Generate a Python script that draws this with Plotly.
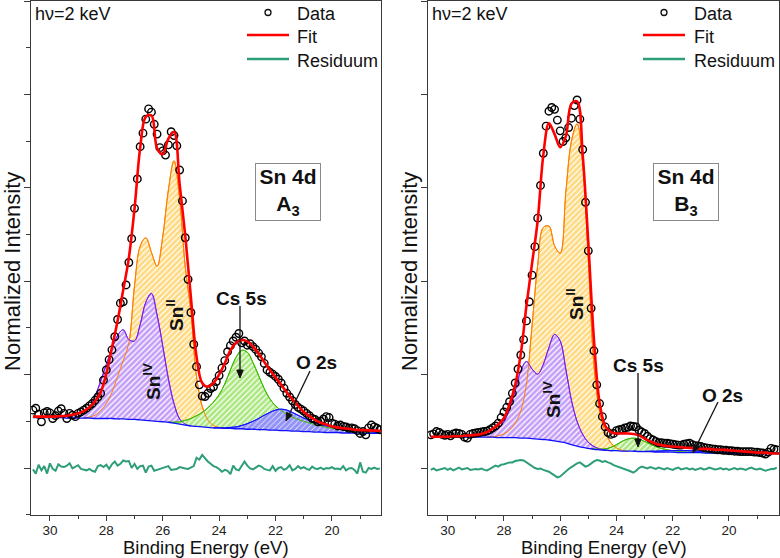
import math
import plotly.graph_objects as go

W, H = 780, 558
FONT = "Liberation Sans, Arial, sans-serif"

def PX(x):
    return x / W

def PY(y):
    return 1 - y / H

# ---------------- energy grids ----------------
G = [30.6, 30.4, 30.2, 30.0, 29.8, 29.6, 29.4, 29.2, 29.0, 28.8, 28.6, 28.4, 28.2, 28.0,
     27.8, 27.6, 27.4, 27.2, 27.0, 26.8, 26.6, 26.4, 26.2, 26.0, 25.8, 25.6, 25.4, 25.2,
     25.0, 24.8, 24.6, 24.4, 24.2, 24.0, 23.8, 23.6, 23.4, 23.2, 23.0, 22.8, 22.6, 22.4,
     22.2, 22.0, 21.8, 21.6, 21.4, 21.2, 21.0, 20.8, 20.6, 20.4, 20.2, 20.0, 19.8, 19.6,
     19.4, 19.2, 19.0, 18.8, 18.6, 18.4, 18.2]

E_DATA = [30.6, 30.5, 30.4, 30.3, 30.2, 30.1,
          30.0, 29.9, 29.8, 29.7, 29.6, 29.5, 29.4, 29.3, 29.2, 29.1,
          29.0, 28.9, 28.8, 28.7, 28.6, 28.5, 28.4, 28.3, 28.2, 28.1,
          28.0, 27.9, 27.8, 27.7, 27.6, 27.5, 27.4, 27.3, 27.2, 27.1,
          27.0, 26.9, 26.8, 26.7, 26.6, 26.5, 26.4, 26.3, 26.2, 26.1,
          26.0, 25.9, 25.8, 25.7, 25.6, 25.5, 25.4, 25.3, 25.2, 25.1,
          25.0, 24.9, 24.8, 24.7, 24.6, 24.5, 24.4, 24.3, 24.2, 24.1,
          24.0, 23.9, 23.8, 23.7, 23.6, 23.5, 23.4, 23.3, 23.2, 23.1,
          23.0, 22.9, 22.8, 22.7, 22.6, 22.5, 22.4, 22.3, 22.2, 22.1,
          22.0, 21.9, 21.8, 21.7, 21.6, 21.5, 21.4, 21.3, 21.2, 21.1,
          21.0, 20.9, 20.8, 20.7, 20.6, 20.5, 20.4, 20.3, 20.2, 20.1,
          20.0, 19.9, 19.8, 19.7, 19.6, 19.5, 19.4, 19.3, 19.2, 19.1,
          19.0, 18.9, 18.8, 18.7, 18.6, 18.5, 18.4, 18.3]

# ---------------- panel A3 (left) ----------------
DATA_A = [1.24, 1.28, 1.15, 0.99, 1.18, 1.21,
          1.18, 1.06, 1.12, 1.22, 1.27, 1.17, 1.06, 1.17, 1.13, 1.10,
          1.17, 1.20, 1.24, 1.28, 1.33, 1.38, 1.45, 1.52, 1.60, 1.88,
          2.10, 2.32, 2.53, 2.81, 3.18, 3.53, 3.56, 3.92, 4.40, 4.91,
          5.56, 6.19, 6.88, 7.17, 7.47, 7.69, 7.62, 7.36, 7.15, 6.86,
          6.79, 6.70, 6.92, 7.20, 7.12, 6.90, 6.38, 5.72, 4.93, 4.04,
          3.33, 2.65, 2.17, 1.78, 1.54, 1.53, 1.60, 1.70, 1.74, 1.85,
          1.98, 2.14, 2.30, 2.49, 2.62, 2.72, 2.80, 2.88, 2.68, 2.72,
          2.63, 2.66, 2.60, 2.54, 2.46, 2.38, 2.24, 2.10, 2.05, 2.01,
          1.96, 1.90, 1.82, 1.71, 1.60, 1.52, 1.44, 1.36, 1.30, 1.26,
          1.22, 1.17, 1.12, 1.06, 1.04, 0.99, 1.00, 1.05, 1.10, 1.08,
          0.96, 0.94, 0.90, 0.92, 0.89, 0.88, 0.85, 0.86, 0.84, 0.80,
          0.74, 0.78, 0.71, 0.86, 0.92, 0.88, 0.85, 0.82]

RESID_A = [-0.03, -0.12, 0.07, -0.05, 0.04, -0.12,
           0.10, -0.02, -0.06, 0.08, 0.03, 0.02, 0.05, 0.10, -0.01, 0.03,
           0.06, -0.02, -0.04, -0.05, -0.02, -0.06, -0.08, 0.04, 0.06, 0.02,
           0.07, -0.02, 0.08, 0.14, 0.05, 0.09, 0.16, 0.14, 0.15, 0.00,
           0.09, -0.02, 0.04, 0.05, -0.10, 0.03, 0.05, -0.06, -0.04, -0.02,
           -0.01, 0.01, 0.04, -0.04, -0.03, -0.02, 0.02, 0.00, -0.01, -0.02,
           0.01, 0.04, 0.22, 0.18, 0.28, 0.20, 0.14, 0.09, 0.04, 0.02,
           -0.02, -0.08, -0.04, -0.06, -0.13, 0.05, -0.03, -0.05, 0.04, 0.14,
           0.05, -0.01, -0.03, 0.01, 0.05, 0.03, -0.02, -0.04, -0.05, 0.04,
           -0.06, 0.00, 0.02, -0.04, -0.01, 0.06, -0.05, -0.02, 0.04, -0.01,
           0.02, -0.02, -0.04, 0.03, -0.01, -0.02, 0.01, -0.03, 0.00, -0.01,
           0.02, -0.02, -0.01, -0.03, 0.04, -0.05, -0.01, 0.00, -0.04, -0.12,
           0.12, -0.08, -0.10, 0.00, -0.02, 0.01, -0.02, -0.01]

FIT_A = [1.10, 1.10, 1.10, 1.10, 1.10, 1.11, 1.12, 1.14, 1.17, 1.22, 1.30, 1.43, 1.62, 2.02,
         2.58, 3.15, 3.81, 4.50, 5.55, 6.85, 7.52, 7.55, 6.85, 6.72, 7.05, 7.20, 6.08, 4.97,
         3.65, 2.38, 1.82, 1.74, 1.82, 2.00, 2.24, 2.52, 2.68, 2.74, 2.71, 2.60, 2.45, 2.27,
         2.10, 1.94, 1.78, 1.62, 1.47, 1.33, 1.20, 1.11, 1.03, 0.97, 0.93, 0.89, 0.87, 0.85,
         0.84, 0.82, 0.81, 0.81, 0.80, 0.80, 0.79]

BG_A = [1.08, 1.08, 1.08, 1.08, 1.08, 1.08, 1.07, 1.07, 1.07, 1.07, 1.07, 1.06, 1.06, 1.06,
        1.06, 1.05, 1.05, 1.04, 1.04, 1.03, 1.02, 1.01, 1.00, 0.99, 0.98, 0.96, 0.94, 0.92,
        0.90, 0.89, 0.88, 0.87, 0.86, 0.86, 0.85, 0.85, 0.84, 0.84, 0.83, 0.83, 0.82, 0.82,
        0.81, 0.81, 0.80, 0.80, 0.79, 0.79, 0.78, 0.78, 0.77, 0.77, 0.76, 0.76, 0.76, 0.75,
        0.75, 0.75, 0.75, 0.74, 0.74, 0.74, 0.74]

SN2_A_E = [28.8, 28.6, 28.4, 28.2, 28.0, 27.8, 27.6, 27.4, 27.2, 27.0, 26.8, 26.6, 26.4,
           26.2, 26.0, 25.8, 25.6, 25.4, 25.2, 25.0, 24.8, 24.6, 24.4, 24.2, 24.0, 23.8]
SN2_A = [1.07, 1.09, 1.13, 1.23, 1.38, 1.62, 1.96, 2.30, 2.68, 3.90, 4.75, 4.93, 4.62,
         4.32, 4.95, 5.95, 6.58, 5.76, 4.30, 3.35, 1.95, 1.32, 1.03, 0.91, 0.87, 0.85]

SN4_A_E = [29.4, 29.2, 29.0, 28.8, 28.6, 28.4, 28.2, 28.0, 27.8, 27.6, 27.4, 27.2, 27.0,
           26.8, 26.6, 26.4, 26.2, 26.0, 25.8, 25.6, 25.4, 25.2, 25.0]
SN4_A = [1.07, 1.08, 1.11, 1.18, 1.30, 1.54, 1.86, 2.22, 2.55, 2.84, 2.96, 2.75, 2.72,
         3.07, 3.55, 3.74, 3.28, 2.62, 1.92, 1.38, 1.05, 0.94, 0.90]

CS_A_E = [25.8, 25.6, 25.4, 25.2, 25.0, 24.8, 24.6, 24.4, 24.2, 24.0, 23.8, 23.6, 23.4,
          23.2, 23.0, 22.8, 22.6, 22.4, 22.2, 22.0, 21.8, 21.6, 21.4, 21.2, 21.0, 20.8,
          20.6, 20.4, 20.2, 20.0, 19.8, 19.6, 19.4, 19.2, 19.0, 18.8, 18.6, 18.4, 18.2]
CS_A = [0.98, 0.98, 0.99, 1.02, 1.06, 1.12, 1.19, 1.29, 1.41, 1.57, 1.80, 2.10, 2.37,
        2.52, 2.48, 2.26, 1.98, 1.70, 1.48, 1.33, 1.23, 1.15, 1.09, 1.04, 1.00, 0.96,
        0.93, 0.90, 0.87, 0.85, 0.83, 0.81, 0.79, 0.78, 0.77, 0.76, 0.75, 0.75, 0.74]

O2_A_E = [24.2, 24.0, 23.8, 23.6, 23.4, 23.2, 23.0, 22.8, 22.6, 22.4, 22.2, 22.0, 21.8,
          21.6, 21.4, 21.2, 21.0, 20.8, 20.6, 20.4, 20.2, 20.0, 19.8, 19.6, 19.4, 19.2,
          19.0, 18.8, 18.6, 18.4, 18.2]
O2_A = [0.86, 0.86, 0.86, 0.87, 0.88, 0.91, 0.95, 1.00, 1.06, 1.13, 1.19, 1.24, 1.26,
        1.24, 1.19, 1.13, 1.07, 1.02, 0.97, 0.93, 0.90, 0.88, 0.86, 0.84, 0.82, 0.80,
        0.79, 0.78, 0.77, 0.76, 0.75]

# ---------------- panel B3 (right) ----------------
DATA_B = [0.71, 0.73, 0.78, 0.76, 0.72, 0.70,
          0.72, 0.69, 0.73, 0.75, 0.74, 0.72, 0.66, 0.64, 0.72, 0.74,
          0.75, 0.76, 0.77, 0.78, 0.79, 0.82, 0.86, 0.90, 0.96, 1.08,
          1.20, 1.30, 1.42, 1.60, 1.82, 2.12, 2.42, 2.75, 3.15, 3.56,
          4.13, 4.74, 5.35, 6.05, 6.74, 7.32, 7.64, 7.72, 7.68, 7.45,
          7.22, 6.99, 7.07, 7.29, 7.49, 7.76, 7.88, 7.47, 6.82, 5.69,
          4.65, 3.42, 2.51, 1.78, 1.38, 1.10, 0.88, 0.76, 0.72, 0.74,
          0.80, 0.82, 0.83, 0.86, 0.87, 0.90, 0.89, 0.88, 0.81, 0.77,
          0.74, 0.68, 0.63, 0.60, 0.57, 0.54, 0.54, 0.53, 0.53, 0.52,
          0.51, 0.50, 0.49, 0.49, 0.51, 0.52, 0.53, 0.50, 0.48, 0.47,
          0.46, 0.44, 0.43, 0.42, 0.41, 0.40, 0.39, 0.39, 0.38, 0.38,
          0.37, 0.37, 0.36, 0.36, 0.35, 0.35, 0.35, 0.35, 0.35, 0.34,
          0.34, 0.33, 0.32, 0.30, 0.34, 0.42, 0.40, 0.39]

RESID_B = [-0.04, -0.01, -0.05, -0.03, -0.02, 0.00,
           -0.04, -0.01, -0.05, -0.02, 0.01, -0.03, -0.02, 0.00, -0.04, -0.03,
           -0.02, -0.03, -0.01, -0.04, -0.05, -0.02, 0.02, 0.05, 0.03, 0.07,
           0.08, 0.10, 0.12, 0.12, 0.15, 0.16, 0.17, 0.16, 0.12, 0.08,
           0.04, 0.00, -0.02, -0.01, -0.04, -0.06, -0.08, -0.12, -0.16, -0.20,
           -0.18, -0.12, -0.06, -0.02, 0.02, 0.06, 0.10, 0.12, 0.08, 0.03,
           0.05, 0.10, 0.14, 0.17, 0.16, 0.13, 0.15, 0.12, 0.10, 0.06,
           0.04, 0.02, 0.00, -0.02, -0.04, -0.07, -0.10, -0.06, 0.00, 0.03,
           0.01, -0.01, 0.02, 0.00, -0.02, 0.01, -0.01, -0.03, 0.00, -0.02,
           -0.04, -0.01, 0.01, -0.03, -0.02, 0.00, -0.03, -0.01, -0.04, -0.02,
           0.00, -0.03, -0.02, 0.01, -0.01, -0.03, -0.02, 0.00, -0.03, -0.01,
           -0.04, -0.02, 0.00, -0.03, -0.01, -0.02, -0.04, -0.01, 0.01, -0.02,
           -0.03, -0.01, -0.03, -0.06, -0.04, -0.02, -0.02, 0.01]

FIT_B = [0.67, 0.67, 0.67, 0.67, 0.68, 0.68, 0.69, 0.70, 0.71, 0.73, 0.77, 0.84, 0.93, 1.07,
         1.36, 1.78, 2.45, 3.47, 4.38, 5.30, 6.70, 7.38, 7.15, 6.87, 7.10, 7.80, 7.85, 6.70,
         4.82, 2.75, 1.40, 0.90, 0.77, 0.74, 0.74, 0.74, 0.73, 0.70, 0.63, 0.57, 0.52, 0.49,
         0.47, 0.46, 0.45, 0.44, 0.43, 0.42, 0.41, 0.41, 0.40, 0.39, 0.39, 0.38, 0.37, 0.36,
         0.35, 0.34, 0.33, 0.33, 0.32, 0.31, 0.31]

BG_B = [0.66, 0.66, 0.66, 0.66, 0.66, 0.66, 0.66, 0.66, 0.66, 0.66, 0.66, 0.66, 0.65, 0.65,
        0.65, 0.65, 0.64, 0.64, 0.63, 0.62, 0.61, 0.60, 0.58, 0.56, 0.54, 0.50, 0.47, 0.44,
        0.42, 0.40, 0.39, 0.38, 0.37, 0.37, 0.36, 0.36, 0.36, 0.35, 0.35, 0.35, 0.34, 0.34,
        0.34, 0.34, 0.33, 0.33, 0.33, 0.33, 0.33, 0.32, 0.32, 0.32, 0.32, 0.32, 0.32, 0.31,
        0.31, 0.31, 0.31, 0.31, 0.31, 0.31, 0.31]

SN2_B_E = [28.6, 28.4, 28.2, 28.0, 27.8, 27.6, 27.4, 27.2, 27.0, 26.8, 26.6, 26.4, 26.2,
           26.0, 25.8, 25.6, 25.4, 25.2, 25.0, 24.8, 24.6, 24.4, 24.2, 24.0, 23.8, 23.6]
SN2_B = [0.66, 0.67, 0.69, 0.73, 0.81, 0.96, 1.22, 1.80, 3.05, 4.35, 5.15, 5.18, 4.76,
         4.60, 5.90, 7.00, 7.37, 6.55, 4.45, 2.20, 1.22, 0.78, 0.54, 0.43, 0.38, 0.36]

SN4_B_E = [29.2, 29.0, 28.8, 28.6, 28.4, 28.2, 28.0, 27.8, 27.6, 27.4, 27.2, 27.0, 26.8,
           26.6, 26.4, 26.2, 26.0, 25.8, 25.6, 25.4, 25.2, 25.0, 24.8, 24.6, 24.4, 24.2]
SN4_B = [0.66, 0.67, 0.69, 0.72, 0.77, 0.85, 0.99, 1.26, 1.66, 2.08, 2.28, 2.12, 2.01,
         2.22, 2.58, 2.86, 2.72, 2.12, 1.45, 1.00, 0.72, 0.55, 0.46, 0.41, 0.39, 0.37]

CS_B_E = [25.0, 24.8, 24.6, 24.4, 24.2, 24.0, 23.8, 23.6, 23.4, 23.2, 23.0, 22.8, 22.6,
          22.4, 22.2, 22.0, 21.8, 21.6, 21.4, 21.2, 21.0, 20.8, 20.6, 20.4, 20.2, 20.0,
          19.8, 19.6, 19.4, 19.2, 19.0, 18.8, 18.6, 18.4, 18.2]
CS_B = [0.42, 0.41, 0.40, 0.41, 0.44, 0.50, 0.57, 0.62, 0.64, 0.62, 0.57, 0.51, 0.46,
        0.42, 0.39, 0.37, 0.355, 0.345, 0.34, 0.335, 0.33, 0.325, 0.32, 0.32, 0.32, 0.32,
        0.32, 0.315, 0.315, 0.315, 0.31, 0.31, 0.31, 0.31, 0.31]

O2_B_E = [23.4, 23.2, 23.0, 22.8, 22.6, 22.4, 22.2, 22.0, 21.8, 21.6, 21.4, 21.2, 21.0,
          20.8, 20.6, 20.4, 20.2, 20.0, 19.8, 19.6, 19.4, 19.2, 19.0]
O2_B = [0.36, 0.355, 0.355, 0.36, 0.36, 0.365, 0.37, 0.375, 0.375, 0.375, 0.37, 0.365,
        0.355, 0.345, 0.34, 0.335, 0.33, 0.325, 0.325, 0.315, 0.315, 0.31, 0.31]

for a, b in [(G, FIT_A), (G, BG_A), (G, FIT_B), (G, BG_B), (E_DATA, DATA_A), (E_DATA, RESID_A),
             (E_DATA, DATA_B), (E_DATA, RESID_B), (SN2_A_E, SN2_A), (SN4_A_E, SN4_A),
             (CS_A_E, CS_A), (O2_A_E, O2_A), (SN2_B_E, SN2_B), (SN4_B_E, SN4_B),
             (CS_B_E, CS_B), (O2_B_E, O2_B)]:
    assert len(a) == len(b), (len(a), len(b))

# ---------------- styles ----------------
COMP_STYLE = {
    "SnII": dict(line="#FF8000", fg="#FFB300", sol=0.7),
    "SnIV": dict(line="#7A1FF0", fg="#8A3CF2", sol=0.68),
    "Cs": dict(line="#3DBB00", fg="#55D000", sol=0.7),
    "O": dict(line="#1010FF", fg="#2424EE", sol=0.85),
}
RES_COLOR = "#2E9E78"
AX = "#3a3a3a"

fig = go.Figure()


def add_panel(xa, ya, bg, fit, data, resid, comps):
    bgmap = {round(e, 1): v for e, v in zip(G, bg)}
    for name, ex, ey in comps:
        st = COMP_STYLE[name]
        base = [bgmap[round(e, 1)] for e in ex]
        fig.add_trace(go.Scatter(x=ex, y=base, mode="lines", line=dict(width=0, shape="spline"),
                                 xaxis=xa, yaxis=ya, showlegend=False, hoverinfo="skip"))
        fig.add_trace(go.Scatter(x=ex, y=ey, mode="lines", fill="tonexty",
                                 fillcolor="white",
                                 fillpattern=dict(shape="/", fgcolor=st["fg"], bgcolor="white",
                                                  size=4, solidity=st["sol"]),
                                 line=dict(width=1, color=st["line"], shape="spline"),
                                 xaxis=xa, yaxis=ya, showlegend=False, hoverinfo="skip"))
    for name, ex, ey in comps:
        st = COMP_STYLE[name]
        fig.add_trace(go.Scatter(x=ex, y=ey, mode="lines",
                                 line=dict(width=1, color=st["line"], shape="spline"),
                                 xaxis=xa, yaxis=ya, showlegend=False, hoverinfo="skip"))
    fig.add_trace(go.Scatter(x=G, y=bg, mode="lines",
                             line=dict(width=1.3, color="#1010FF", shape="spline"),
                             xaxis=xa, yaxis=ya, showlegend=False, hoverinfo="skip"))
    fig.add_trace(go.Scatter(x=E_DATA, y=data, mode="markers", name="Data",
                             marker=dict(symbol="circle-open", size=7.5, color="black",
                                         line=dict(width=1.4, color="black")),
                             xaxis=xa, yaxis=ya, showlegend=False))
    fig.add_trace(go.Scatter(x=G, y=fit, mode="lines", name="Fit",
                             line=dict(width=2.6, color="#FF0000", shape="spline"),
                             xaxis=xa, yaxis=ya, showlegend=False))
    fig.add_trace(go.Scatter(x=E_DATA, y=resid, mode="lines", name="Residuum",
                             line=dict(width=2, color=RES_COLOR),
                             xaxis=xa, yaxis=ya, showlegend=False))


add_panel("x", "y", BG_A, FIT_A, DATA_A, RESID_A,
          [("SnII", SN2_A_E, SN2_A), ("SnIV", SN4_A_E, SN4_A),
           ("Cs", CS_A_E, CS_A), ("O", O2_A_E, O2_A)])
add_panel("x2", "y2", BG_B, FIT_B, DATA_B, RESID_B,
          [("SnII", SN2_B_E, SN2_B), ("SnIV", SN4_B_E, SN4_B),
           ("Cs", CS_B_E, CS_B), ("O", O2_B_E, O2_B)])

YDOM = [PY(515), PY(1)]
YRANGE = [(468 - 515) / 46.7, (468 - 1) / 46.7]
axis_common = dict(showline=True, mirror=True, linecolor=AX, linewidth=1.3,
                   showgrid=False, zeroline=False, ticks="outside", tickcolor=AX,
                   tickwidth=1.2)

xcommon = dict(axis_common, dtick=2, tick0=0, ticklen=5, ticklabelstandoff=-2,
               tickfont=dict(size=13.5, color="#222", family=FONT),
               minor=dict(ticks="outside", ticklen=3, dtick=1, tick0=0, tickcolor=AX))

fig.update_layout(
    width=W, height=H, margin=dict(l=0, r=0, t=0, b=0),
    plot_bgcolor="white", paper_bgcolor="white", showlegend=False,
    font=dict(family=FONT, color="#111"),
    xaxis=dict(xcommon, domain=[PX(31), PX(381)], range=[30.67, 18.26], anchor="y"),
    yaxis=dict(axis_common, domain=YDOM, range=YRANGE, dtick=2, tick0=0, ticklen=6,
               showticklabels=False, anchor="x",
               minor=dict(ticks="outside", ticklen=4, dtick=1, tick0=0, tickcolor=AX)),
    xaxis2=dict(xcommon, domain=[PX(428), PX(779)], range=[30.70, 18.22], anchor="y2"),
    yaxis2=dict(axis_common, domain=YDOM, range=YRANGE, dtick=2, tick0=0, ticklen=6,
                showticklabels=False, anchor="x2"),
)

ann = []
shapes = []


def text(x, y, s, size=18, bold=False, angle=0, xanchor="center", **kw):
    t = f"<b>{s}</b>" if bold else s
    ann.append(dict(x=PX(x), y=PY(y), xref="paper", yref="paper", text=t, showarrow=False,
                    textangle=angle, xanchor=xanchor, yanchor="middle",
                    font=dict(size=size, family=FONT, color="#111"), **kw))


def arrow(hx, hy, tx, ty):
    dx, dy = hx - tx, hy - ty
    L = math.hypot(dx, dy)
    ux, uy = dx / L, dy / L
    hl, hw = 8, 3.2
    bx, by = hx - ux * hl, hy - uy * hl
    shapes.append(dict(type="line", xref="paper", yref="paper",
                       x0=PX(tx), y0=PY(ty), x1=PX(bx), y1=PY(by),
                       line=dict(color="#111", width=1.3)))
    p1 = (bx - uy * hw, by + ux * hw)
    p2 = (bx + uy * hw, by - ux * hw)
    path = (f"M {PX(hx)} {PY(hy)} L {PX(p1[0])} {PY(p1[1])} "
            f"L {PX(p2[0])} {PY(p2[1])} Z")
    shapes.append(dict(type="path", xref="paper", yref="paper", path=path,
                       fillcolor="#111", line=dict(color="#111", width=1)))


for off, legx, legtx, ytitle_x, xt_cx in [(0, 247, 295, 13, 206),
                                          (397, 643, 692, 410, 604)]:
    text(33 + off, 14, "hν=2 keV", size=18, xanchor="left")
    shapes.append(dict(type="circle", xref="paper", yref="paper",
                       x0=PX(legx + 18), x1=PX(legx + 24), y0=PY(15.5), y1=PY(9.5),
                       line=dict(color="#111", width=1.3)))
    shapes.append(dict(type="line", xref="paper", yref="paper", x0=PX(legx), x1=PX(legx + 42),
                       y0=PY(35), y1=PY(35), line=dict(color="#FF0000", width=2.6)))
    shapes.append(dict(type="line", xref="paper", yref="paper", x0=PX(legx), x1=PX(legx + 42),
                       y0=PY(59), y1=PY(59), line=dict(color=RES_COLOR, width=2.6)))
    text(legtx, 14, "Data", size=18, xanchor="left")
    text(legtx, 37, "Fit", size=18, xanchor="left")
    text(legtx, 61, "Residuum", size=18, xanchor="left")
    text(xt_cx, 547.5, "Binding Energy (eV)", size=18.5)
    text(ytitle_x, 272, "Normalized Intensity", size=22, angle=-90)

for cx, sub in [(288, "A"), (686, "B")]:
    ann.append(dict(x=PX(cx), y=PY(192), xref="paper", yref="paper",
                    text=f"<b>Sn 4d<br>{sub}<sub>3</sub></b>", showarrow=False,
                    xanchor="center", yanchor="middle", width=62, height=54,
                    bordercolor="#8a8a8a", borderwidth=1, borderpad=1,
                    font=dict(size=21, family=FONT, color="#111")))

text(175, 315, "Sn<sup>II</sup>", size=19, bold=True, angle=-90)
text(152, 382, "Sn<sup>IV</sup>", size=19, bold=True, angle=-90)
text(241, 298, "Cs 5s", size=19, bold=True)
arrow(240, 378, 240, 306)
text(316, 362, "O 2s", size=19, bold=True)
arrow(286, 421, 310, 371)

text(575, 304, "Sn<sup>II</sup>", size=19, bold=True, angle=-90)
text(552, 400, "Sn<sup>IV</sup>", size=19, bold=True, angle=-90)
text(638, 365, "Cs 5s", size=19, bold=True)
arrow(638, 447, 638, 373)
text(722, 395, "O 2s", size=19, bold=True)
arrow(693, 453, 718, 402)

fig.update_layout(annotations=ann, shapes=shapes)
fig.write_html("out.html", config={"displayModeBar": False},
               post_script="document.body.style.margin='0px';document.body.style.padding='0px';"
                           "document.body.style.overflow='hidden';")
